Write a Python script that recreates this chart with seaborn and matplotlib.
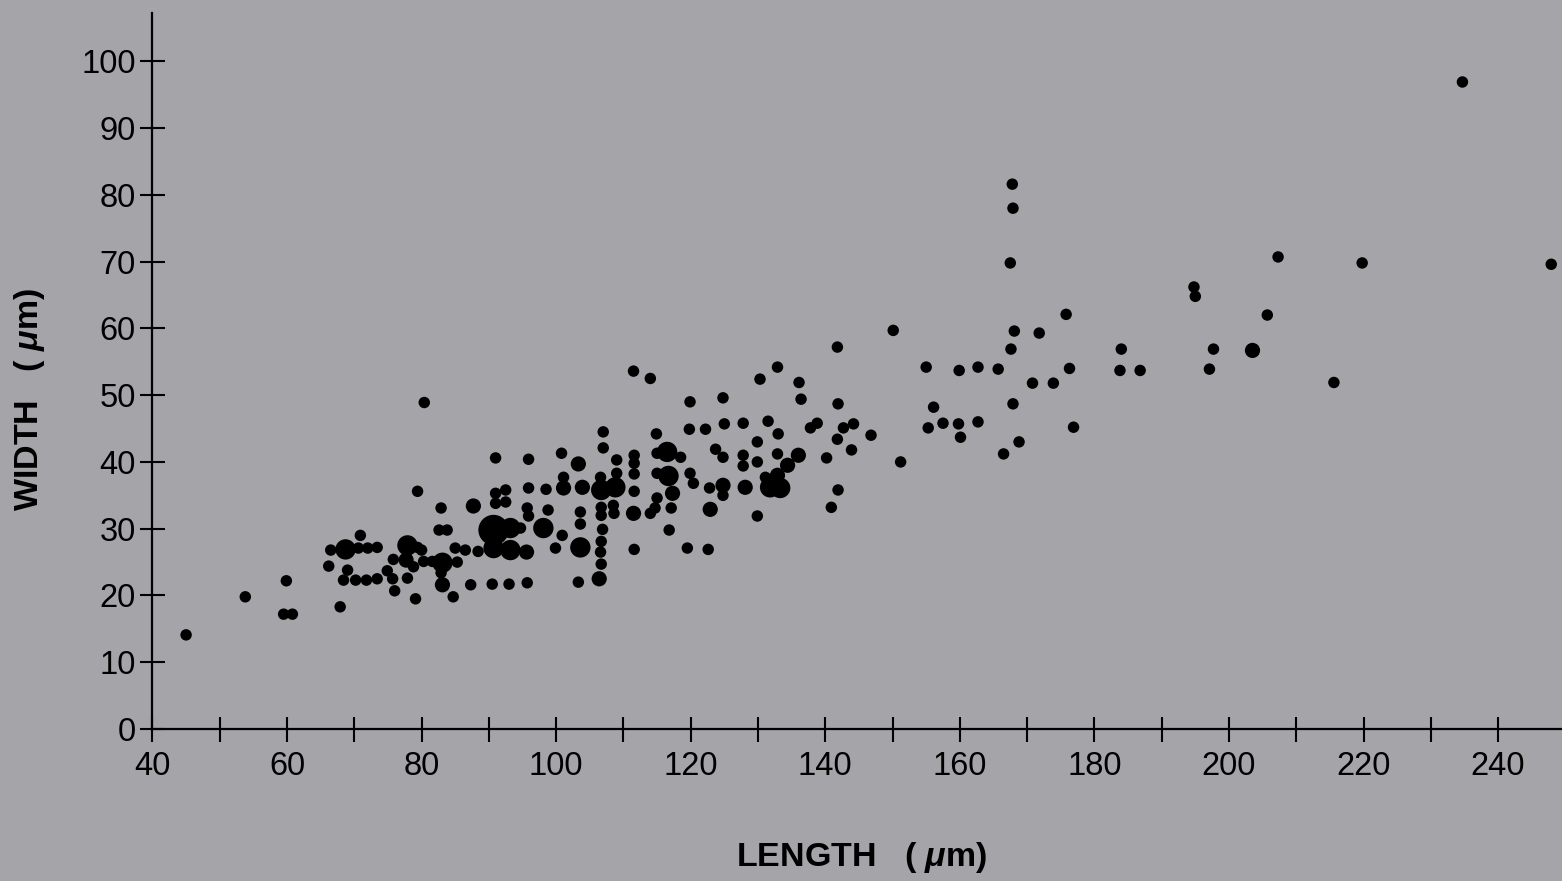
import matplotlib
matplotlib.use("Agg")
import matplotlib.pyplot as plt
import seaborn as sns
import pandas as pd

# Each point: (length um, width um, number of coincident specimens -> dot size)
small_cells = [
    (45.0, 14.1, 1), (53.8, 19.8, 1), (59.9, 22.2, 1), (59.5, 17.2, 1), (60.8, 17.2, 1),
]
cells_65_90 = [
    (66.5, 26.8, 1), (68.7, 26.9, 3), (70.6, 27.1, 1), (72.0, 27.1, 1), (73.4, 27.2, 1),
    (70.9, 29.0, 1), (66.2, 24.4, 1), (69.0, 23.8, 1), (68.4, 22.3, 1), (70.2, 22.3, 1),
    (71.8, 22.3, 1), (73.4, 22.5, 1), (67.9, 18.3, 1), (74.9, 23.7, 1), (75.7, 22.5, 1),
    (76.0, 20.7, 1), (75.8, 25.4, 1), (77.9, 27.5, 3), (77.7, 25.3, 2), (79.4, 27.2, 1),
    (80.0, 26.8, 1), (78.8, 24.3, 1), (77.9, 22.6, 1), (79.1, 19.5, 1), (79.4, 35.6, 1),
    (80.3, 25.1, 1), (81.6, 25.1, 1), (82.9, 33.1, 1), (82.6, 29.8, 1), (83.8, 29.8, 1),
    (83.1, 24.9, 3), (83.1, 21.6, 2), (84.7, 19.8, 1), (85.0, 27.1, 1), (86.5, 26.8, 1),
    (88.4, 26.6, 1), (85.3, 25.0, 1), (87.3, 21.6, 1), (90.5, 21.7, 1), (87.7, 33.4, 2),
    (82.9, 23.4, 1), (80.4, 48.9, 1),
]
cells_90_112 = [
    (91.0, 40.6, 1), (95.9, 40.4, 1), (100.8, 41.3, 1), (107.0, 42.1, 1), (107.0, 44.5, 1),
    (111.6, 41.0, 1), (111.6, 39.8, 1), (103.3, 39.7, 2), (109.0, 40.3, 1), (101.1, 37.7, 1),
    (101.1, 36.1, 2), (103.9, 36.2, 2), (106.6, 37.7, 1), (106.7, 35.8, 3), (108.8, 36.2, 3),
    (109.0, 38.3, 1), (111.6, 38.2, 1), (111.6, 35.6, 1), (91.0, 35.3, 1), (92.5, 35.8, 1),
    (92.5, 34.0, 1), (91.0, 33.8, 1), (95.9, 36.1, 1), (98.5, 35.9, 1), (95.7, 33.1, 1),
    (98.8, 32.8, 1), (103.6, 32.5, 1), (103.6, 30.7, 1), (106.7, 33.2, 1), (106.7, 32.0, 1),
    (108.5, 33.5, 1), (108.6, 32.3, 1), (111.5, 32.3, 2), (90.7, 29.8, 4), (93.2, 30.1, 3),
    (94.7, 30.1, 1), (98.1, 30.1, 3), (90.7, 27.1, 3), (93.2, 26.8, 3), (95.6, 26.5, 2),
    (95.9, 31.9, 1), (100.9, 29.0, 1), (99.9, 27.1, 1), (103.6, 27.2, 3), (106.9, 29.9, 1),
    (106.7, 28.1, 1), (106.6, 26.5, 1), (106.7, 24.7, 1), (111.6, 26.9, 1), (93.0, 21.7, 1),
    (95.7, 21.9, 1), (103.3, 22.0, 1), (106.4, 22.5, 2),
]
cells_112_137 = [
    (111.5, 53.6, 1), (114.0, 52.5, 1), (119.9, 49.0, 1), (124.8, 49.6, 1), (119.8, 44.9, 1),
    (122.2, 44.9, 1), (125.0, 45.7, 1), (127.8, 45.8, 1), (131.5, 46.1, 1), (133.0, 44.2, 1),
    (129.9, 43.0, 1), (132.9, 54.2, 1), (130.3, 52.4, 1), (136.1, 51.9, 1), (136.4, 49.4, 1),
    (114.9, 44.2, 1), (115.0, 41.3, 1), (116.5, 41.5, 3), (118.5, 40.7, 1), (123.7, 41.9, 1),
    (124.8, 40.7, 1), (127.8, 41.0, 1), (127.8, 39.4, 1), (129.9, 40.0, 1), (132.9, 41.2, 1),
    (136.0, 41.0, 2), (134.4, 39.5, 2), (115.0, 38.3, 1), (116.7, 37.9, 3), (117.3, 35.3, 2),
    (119.9, 38.3, 1), (120.4, 36.8, 1), (122.8, 36.1, 1), (124.8, 36.5, 2), (124.8, 35.0, 1),
    (128.1, 36.2, 2), (131.1, 37.7, 1), (132.9, 38.0, 2), (131.8, 36.2, 3), (133.3, 36.1, 3),
    (129.9, 31.9, 1), (114.7, 33.1, 1), (114.0, 32.3, 1), (117.1, 33.1, 1), (115.0, 34.6, 1),
    (122.9, 32.9, 2), (116.8, 29.8, 1), (119.5, 27.1, 1), (122.6, 26.9, 1),
]
cells_137_180 = [
    (141.8, 57.2, 1), (150.1, 59.7, 1), (141.9, 48.7, 1), (138.8, 45.8, 1), (137.8, 45.1, 1),
    (142.7, 45.1, 1), (144.2, 45.7, 1), (141.8, 43.4, 1), (146.8, 44.0, 1), (143.9, 41.8, 1),
    (140.2, 40.6, 1), (151.2, 40.0, 1), (141.9, 35.8, 1), (140.9, 33.2, 1), (155.0, 54.2, 1),
    (159.9, 53.7, 1), (162.7, 54.2, 1), (165.7, 53.9, 1), (176.3, 54.0, 1), (175.8, 62.1, 1),
    (168.1, 59.6, 1), (171.8, 59.3, 1), (167.6, 56.9, 1), (170.8, 51.8, 1), (173.9, 51.8, 1),
    (156.1, 48.2, 1), (167.9, 48.7, 1), (155.3, 45.1, 1), (157.5, 45.8, 1), (159.8, 45.7, 1),
    (160.1, 43.7, 1), (162.7, 46.0, 1), (176.9, 45.2, 1), (168.8, 43.0, 1), (166.5, 41.2, 1),
    (167.8, 81.6, 1), (167.9, 78.0, 1), (167.5, 69.8, 1),
]
large_cells = [
    (234.7, 96.9, 1), (207.3, 70.7, 1), (219.8, 69.8, 1), (247.9, 69.6, 1), (194.8, 66.2, 1),
    (195.0, 64.8, 1), (205.7, 62.0, 1), (184.0, 56.9, 1), (197.7, 56.9, 1), (203.5, 56.7, 2),
    (183.8, 53.7, 1), (186.8, 53.7, 1), (197.1, 53.9, 1), (215.6, 51.9, 1),
]

x_major = [40, 60, 80, 100, 120, 140, 160, 180, 200, 220, 240]
x_minor = [50, 70, 90, 110, 130, 150, 170, 190, 210, 230]
y_ticks = [0, 10, 20, 30, 40, 50, 60, 70, 80, 90, 100]

df = pd.DataFrame(small_cells + cells_65_90 + cells_90_112 + cells_112_137
                  + cells_137_180 + large_cells,
                  columns=["length", "width", "n"])

bg = "#a4a4a9"
sns.set_style("white")
plt.rcParams["font.family"] = ["Liberation Sans", "DejaVu Sans"]
plt.rcParams["text.color"] = "black"
plt.rcParams["axes.labelcolor"] = "black"
plt.rcParams["xtick.color"] = "black"
plt.rcParams["ytick.color"] = "black"
plt.rcParams["mathtext.fontset"] = "custom"
plt.rcParams["mathtext.it"] = "Liberation Sans:italic:bold"
plt.rcParams["mathtext.rm"] = "Liberation Sans:bold"

fig = plt.figure(figsize=(15.62, 8.81), dpi=100, facecolor=bg)
ax = fig.add_axes([0.0976, 0.1725, 0.9024, 0.8125])
ax.set_facecolor(bg)

sns.scatterplot(data=df, x="length", y="width", size="n",
                sizes={1: 68, 2: 120, 3: 215, 4: 480},
                color="black", edgecolor="none", linewidth=0,
                legend=False, ax=ax, zorder=3, clip_on=False)

ax.set_xlim(40, 249.5)
ax.set_ylim(0, 107.2)

for side in ["top", "right"]:
    ax.spines[side].set_visible(False)
for side in ["left", "bottom"]:
    ax.spines[side].set_color("black")
    ax.spines[side].set_linewidth(1.6)

ax.set_xticks(x_major)
ax.set_xticks(x_minor, minor=True)
ax.set_yticks(y_ticks)
ax.tick_params(axis="x", which="both", bottom=True, direction="inout", length=18, width=1.5,
               color="black", labelcolor="black", labelsize=23.5, pad=7)
ax.tick_params(axis="y", which="both", left=True, direction="inout", length=18, width=1.5,
               color="black", labelcolor="black", labelsize=23.5, pad=3)
ax.tick_params(axis="x", which="minor", labelbottom=False)

ax.set_xlabel("LENGTH   ( $\\mu$m)", fontsize=24.5, fontweight="bold", va="center", color="black")
ax.set_ylabel("WIDTH   ( $\\mu$m)", fontsize=24.5, fontweight="bold", va="center", color="black")
ax.xaxis.set_label_coords((862 - 152.5) / (1562 - 152.5), -(858 - 729) / 716)
ax.yaxis.set_label_coords(-(152.5 - 30) / (1562 - 152.5), (729 - 399) / 716)

fig.savefig("out.png", dpi=100, facecolor=bg)
